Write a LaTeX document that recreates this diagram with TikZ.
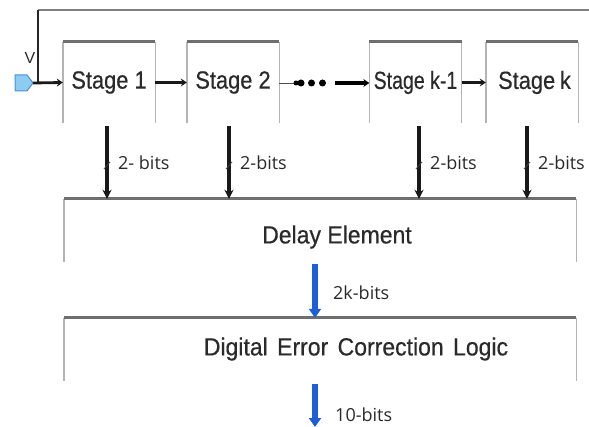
\documentclass[tikz,border=0pt]{standalone}
\usepackage{fontspec}
\setmainfont{Liberation Sans}
\newfontfamily\labfont{Open Sans}
\newfontface\boxfont{Liberation Sans}[FakeBold=0.5]
\usetikzlibrary{arrows.meta}
\definecolor{txtgray}{HTML}{2A2A2A}
\definecolor{topgray}{HTML}{6E6E6E}
\definecolor{sidegray}{HTML}{B4B4B4}
\definecolor{busblue}{HTML}{1F5FD6}
\definecolor{portfill}{HTML}{8CCBF2}
\definecolor{portedge}{HTML}{4A8FD8}
\newcommand{\stretchtxt}[2][0.95]{\scalebox{#1}[1.08]{#2}}
\tikzset{
  stagebox/.style={minimum width=92pt, minimum height=81pt, inner sep=0pt, text=txtgray, font=\boxfont\fontsize{23}{25}\selectfont},
  bigbox/.style={minimum width=512pt, minimum height=63pt, inner sep=0pt},
  bigtext/.style={text=txtgray, font=\boxfont\fontsize{23}{25}\selectfont, inner sep=0pt},
  topline/.style={draw=topgray, line width=2.6pt},
  sideline/.style={draw=sidegray, line width=1.4pt},
  flow/.style={draw=black!90, line width=2.8pt, -{Stealth[length=6pt,width=8pt]}},
  bus/.style={draw=black!90, line width=3.2pt, -{Stealth[length=9pt,width=9pt]}},
  tick/.style={draw=black!75, line width=0.8pt},
  bitlab/.style={anchor=west, inner sep=0pt, text=txtgray, font=\labfont\fontsize{18}{20}\selectfont},
  bluebus/.style={draw=busblue, line width=5.5pt, -{Triangle[length=9pt,width=12pt]}},
  dot/.style={circle, fill=black, inner sep=0pt, minimum size=7pt},
}
\begin{document}
\begin{tikzpicture}[x=1pt,y=-1pt]
\useasboundingbox (0,0) rectangle (589,427);
% stages
\node[stagebox] (s1) at (109,82.5) {\stretchtxt{Stage 1}};
\node[stagebox] (s2) at (233,82.5) {\stretchtxt{Stage 2}};
\node[stagebox] (s3) at (415.5,82.5) {\stretchtxt[0.85]{Stage k-1}};
\node[stagebox] (s4) at (532,82.5) {\hspace*{5pt}\stretchtxt{Stage\hspace{5pt}k}};
\foreach \s in {s1,s2,s3,s4}{
  \draw[sideline] (\s.north west) -- (\s.south west);
  \draw[sideline] (\s.north east) -- (\s.south east);
  \draw[topline] (\s.north west) -- (\s.north east);
}
% input port
\draw[fill=portfill, draw=portedge, line width=1pt] (15,75) -- (27,75) -- (33,83) -- (27,91) -- (15,91) -- cycle;
\coordinate (port) at (33,83);
\node[inner sep=0pt, text=txtgray, font=\fontsize{16}{18}\selectfont] (vlab) at (30,58) {V};
% feedback
\coordinate (fbr) at (589,10);
\coordinate (fbl) at (38,10);
\coordinate (fbj) at (38,83);
\draw[draw=gray, line width=2pt] (fbr) -- (fbl);
\draw[draw=black!85, line width=1.6pt] (fbl) -- (fbj);
\draw[flow] (port) -- (s1.west);
\draw[flow] (s1.east) -- (s2.west);
\draw[flow] (s3.east) -- (s4.west);
% dotted link
\coordinate (d0) at (295,83);
\coordinate (d5) at (335,83);
\draw[draw=black!70, line width=0.9pt] (s2.east |- d0) -- (d0);
\node[dot, minimum size=5pt] (dt0) at (296,83) {};
\node[dot] (dt1) at (301,83) {};
\node[dot] (dt2) at (311.5,83) {};
\node[dot] (dt3) at (322.5,83) {};
\draw[draw=black, line width=4pt, -{Stealth[length=6pt,width=8pt]}] (d5) -- (s3.west |- d5);
% big boxes
\node[bigbox] (de) at (320,230.5) {};
\node[bigbox] (dec) at (320,349.5) {};
\foreach \s in {de,dec}{
  \draw[sideline] (\s.north west) -- (\s.south west);
  \draw[sideline] (\s.north east) -- (\s.south east);
  \draw[topline] (\s.north west) -- (\s.north east);
}
\node[bigtext] (detext) at (337,237) {\stretchtxt[1]{Delay Element}};
\node[bigtext] (dectext) at (356,349) {\stretchtxt[1]{Digital\hspace{3pt} Error\hspace{3pt} Correction\hspace{3pt} Logic}};
% 2-bit buses
\foreach \x/\n/\t in {107/1/2- bits,229/2/2-bits,419/3/2-bits,527/4/2-bits}{
  \coordinate (b\n) at (\x,126);
  \draw[bus] (b\n) -- (b\n |- de.north);
  \draw[tick] (\x-3,169) -- (\x+3,162);
  \node[bitlab] (l\n) at (\x+11,163) {\t};
}
% blue buses
\coordinate (o1) at (315,264);
\coordinate (o2) at (315,384);
\coordinate (o3) at (315,427);
\draw[bluebus] (o1) -- (o1 |- dec.north);
\draw[bluebus] (o2) -- (o3);
\node[bitlab] (k1) at (333,293) {2k-bits};
\node[bitlab] (k2) at (335,415) {10-bits};
\end{tikzpicture}
\end{document}
